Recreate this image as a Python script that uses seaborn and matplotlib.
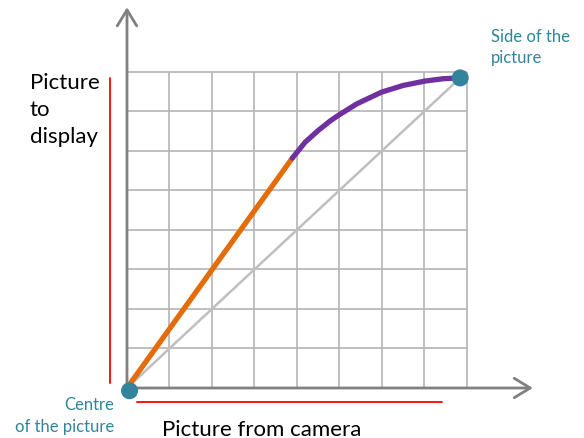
import numpy as np
import pandas as pd
import matplotlib
matplotlib.use("Agg")
import matplotlib.pyplot as plt
import seaborn as sns

# grid is 8 x 8 cells, coordinates in cell units
grid_ticks = list(range(9))

# straight (orange) part of the mapping curve
orange_x = [0.0, 3.89]
orange_y = [0.0, 5.82]

# compressed (purple) part near the picture side
purple_x = [3.89, 4.19, 4.50, 4.78, 4.97, 5.40, 5.99, 6.50, 7.01, 7.44, 7.84]
purple_y = [5.82, 6.22, 6.52, 6.76, 6.90, 7.19, 7.49, 7.66, 7.77, 7.83, 7.85]

# identity line
diag_x = [0.0, 7.84]
diag_y = [0.0, 7.85]

# end points
dot_x = [0.06, 7.84]
dot_y = [-0.07, 7.85]

teal = "#31849b"
orange = "#e46c0a"
purple = "#7030a0"

sns.set_style("white")
plt.rcParams["font.family"] = ["Lato", "DejaVu Sans"]

fig = plt.figure(figsize=(5.84, 4.39), dpi=100)
ax = fig.add_axes([0, 0, 1, 1])
ax.set_xlim(-2.988, 10.753)
ax.set_ylim(-1.266, 9.848)
ax.axis("off")

# grid
ax.vlines(grid_ticks, 0, 8, color="#b4b4b4", lw=1.2, zorder=1)
ax.hlines(grid_ticks, 0, 8, color="#b4b4b4", lw=1.2, zorder=1)

# axes with open arrow heads
arrow = dict(arrowstyle="->,head_length=1.15,head_width=0.7", color="#808080",
             lw=2, shrinkA=0, shrinkB=0, mutation_scale=10)
ax.annotate("", xy=(0, 9.64), xytext=(0, 0), arrowprops=arrow, zorder=2)
ax.annotate("", xy=(9.55, 0), xytext=(0, 0), arrowprops=arrow, zorder=2)

# curves
sns.lineplot(x=diag_x, y=diag_y, color="#bfbfbf", lw=1.8, sort=False,
             estimator=None, ax=ax, zorder=3)
sns.lineplot(x=orange_x, y=orange_y, color=orange, lw=3.8, sort=False,
             estimator=None, ax=ax, zorder=4)
sns.lineplot(x=purple_x, y=purple_y, color=purple, lw=3.8, sort=False,
             estimator=None, ax=ax, zorder=4)
sns.scatterplot(x=dot_x, y=dot_y, color=teal, s=150, edgecolor="none",
                ax=ax, zorder=5)

# red brackets
ax.plot([-0.4, -0.4], [0.13, 7.85], color="red", lw=1.3)
ax.plot([0.235, 7.41], [-0.354, -0.354], color="red", lw=1.3)

# labels
for i, line in enumerate(["Picture", "to", "display"]):
    ax.text(-2.29, 7.59 - i * 0.68, line, fontsize=16, color="black",
            ha="left", va="baseline")
ax.text(0.82, -1.19, "Picture from camera", fontsize=16, color="black",
        ha="left", va="baseline")
ax.text(8.565, 8.78, "Side of the", fontsize=12, color=teal, va="baseline")
ax.text(8.565, 8.26, "picture", fontsize=12, color=teal, va="baseline")
ax.text(-0.306, -0.53, "Centre", fontsize=12, color=teal, ha="right", va="baseline")
ax.text(-0.306, -1.09, "of the picture", fontsize=12, color=teal, ha="right", va="baseline")

fig.savefig("out.png", dpi=100)
